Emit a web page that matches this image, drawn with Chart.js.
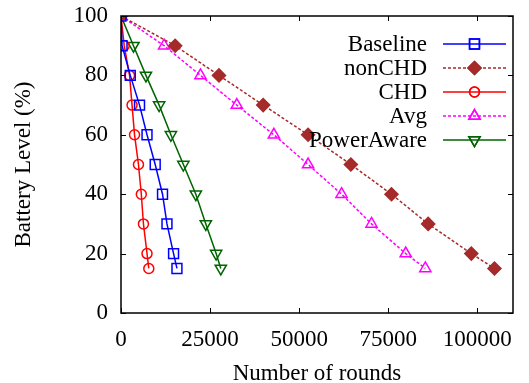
<!DOCTYPE html>
<html>
<head>
<meta charset="utf-8">
<script src="https://cdn.jsdelivr.net/npm/chart.js@4/dist/chart.umd.min.js"></script>
<style>
  html, body { margin: 0; padding: 0; background: #fff; }
  #wrap { width: 529px; height: 383px; }
</style>
</head>
<body>
<div id="wrap"><canvas id="myChart" width="529" height="383"></canvas></div>
<script>
// battery levels (%) that every series reports
var levels = [100, 90, 80, 70, 60, 50, 40, 30, 20, 15];

// number of rounds at which each level is reached
var baselineRounds   = [0, 300, 2600, 5200, 7300, 9600, 11650, 12900, 14750, 15700];
var nonChdRounds     = [0, 15200, 27500, 39900, 52500, 64500, 75900, 86200, 98300, 104800];
var chdRounds        = [0, 900, 2400, 3100, 3800, 4900, 5700, 6300, 7300, 7800];
var avgRounds        = [0, 12100, 22300, 32500, 42900, 52500, 61900, 70300, 79900, 85400];
var powerAwareRounds = [0, 3500, 7000, 10700, 14000, 17500, 21000, 23800, 26700, 28000];

var seriesNames = ["Baseline", "nonCHD", "CHD", "Avg", "PowerAware"];
var xTicks = [0, 25000, 50000, 75000, 100000];
var yTicks = [0, 20, 40, 60, 80, 100];

var FONT = "'Liberation Serif', 'DejaVu Serif', serif";
var FSIZE = 23;

function pts(rounds) {
    var out = [];
    for (var i = 0; i < rounds.length; i++) {
        out.push({ x: rounds[i], y: levels[i] });
    }
    return out;
}

function series(name, rounds, color, style, opts) {
    var ds = {
        label: name,
        data: pts(rounds),
        borderColor: color,
        backgroundColor: color,
        pointBorderColor: color,
        pointBackgroundColor: 'rgba(0,0,0,0)',
        borderWidth: 1.5,
        pointBorderWidth: 1.5,
        pointStyle: style,
        pointRadius: 6,
        tension: 0,
        fill: false
    };
    for (var k in opts) ds[k] = opts[k];
    return ds;
}

var datasets = [
    series(seriesNames[0], baselineRounds, '#0000ff', 'rect', { pointRadius: 7 }),
    series(seriesNames[1], nonChdRounds, '#a52a2a', 'rectRot', { borderDash: [3, 2], pointBackgroundColor: '#a52a2a', pointRadius: 6.5 }),
    series(seriesNames[2], chdRounds, '#ff0000', 'circle', { pointRadius: 5 }),
    series(seriesNames[3], avgRounds, '#ff00ff', 'triangle', { borderDash: [3, 2], pointRadius: 6.5 }),
    series(seriesNames[4], powerAwareRounds, '#006400', 'triangle', { pointRotation: 180, pointRadius: 6.5 })
];

// gnuplot style frame with inward ticks on all four sides
var framePlugin = {
    id: 'frame',
    afterDraw: function (chart) {
        var ctx = chart.ctx;
        var a = chart.chartArea;
        var xs = chart.scales.x, ys = chart.scales.y;
        var len = 5;
        ctx.save();
        ctx.strokeStyle = '#000';
        ctx.lineWidth = 1.5;
        ctx.strokeRect(a.left, a.top, a.right - a.left, a.bottom - a.top);
        ctx.lineWidth = 1;
        ctx.beginPath();
        xTicks.forEach(function (v) {
            var px = Math.round(xs.getPixelForValue(v)) + 0.5;
            ctx.moveTo(px, a.bottom); ctx.lineTo(px, a.bottom - len);
            ctx.moveTo(px, a.top); ctx.lineTo(px, a.top + len);
        });
        yTicks.forEach(function (v) {
            var py = Math.round(ys.getPixelForValue(v)) + 0.5;
            ctx.moveTo(a.left, py); ctx.lineTo(a.left + len, py);
            ctx.moveTo(a.right, py); ctx.lineTo(a.right - len, py);
        });
        ctx.stroke();
        ctx.restore();
    }
};

// legend inside the plot: text on the left, sample line + marker on the right
var legendPlugin = {
    id: 'insideLegend',
    afterDraw: function (chart) {
        var ctx = chart.ctx;
        var textRight = 427, lineL = 443, lineR = 506, top = 44, step = 24;
        ctx.save();
        ctx.font = FSIZE + "px " + FONT;
        ctx.textAlign = 'right';
        ctx.textBaseline = 'middle';
        chart.data.datasets.forEach(function (ds, i) {
            var y = top + i * step;
            ctx.fillStyle = '#000';
            ctx.fillText(ds.label, textRight, y + 1);
            ctx.strokeStyle = ds.borderColor;
            ctx.lineWidth = ds.borderWidth;
            ctx.setLineDash(ds.borderDash || []);
            ctx.beginPath();
            ctx.moveTo(lineL, y); ctx.lineTo(lineR, y);
            ctx.stroke();
            ctx.setLineDash([]);
            ctx.lineWidth = ds.pointBorderWidth;
            ctx.fillStyle = ds.pointBackgroundColor;
            Chart.helpers.drawPoint(ctx, {
                pointStyle: ds.pointStyle,
                rotation: ds.pointRotation || 0,
                radius: ds.pointRadius,
                borderWidth: ds.pointBorderWidth
            }, (lineL + lineR) / 2, y);
            ctx.fill();
            ctx.stroke();
        });
        ctx.restore();
    }
};

var ctx = document.getElementById('myChart');
var myChart = new Chart(ctx, {
    type: 'line',
    data: { datasets: datasets },
    options: {
        responsive: false,
        animation: false,
        layout: { padding: { left: 0, right: 16, top: 16, bottom: 0 } },
        plugins: {
            legend: { display: false },
            tooltip: { enabled: false }
        },
        scales: {
            x: {
                type: 'linear',
                min: 0,
                max: 110000,
                grid: { display: false, drawTicks: false },
                border: { display: false },
                afterBuildTicks: function (s) {
                    s.ticks = xTicks.map(function (v) { return { value: v }; });
                },
                afterFit: function (s) {
                    s.height = 70;
                    s.paddingLeft = 0; s.paddingRight = 0;
                },
                ticks: {
                    color: '#000',
                    padding: 13,
                    maxRotation: 0,
                    font: { family: FONT, size: FSIZE },
                    callback: function (v) { return String(v); }
                },
                title: {
                    display: true,
                    text: 'Number of rounds',
                    color: '#000',
                    font: { family: FONT, size: FSIZE },
                    padding: { top: 0, bottom: -5 }
                }
            },
            y: {
                min: 0,
                max: 100,
                grid: { display: false, drawTicks: false },
                border: { display: false },
                afterBuildTicks: function (s) {
                    s.ticks = yTicks.map(function (v) { return { value: v }; });
                },
                afterFit: function (s) {
                    s.width = 121;
                    s.paddingTop = 0; s.paddingBottom = 0;
                },
                ticks: {
                    color: '#000',
                    padding: 13,
                    font: { family: FONT, size: FSIZE }
                },
                title: {
                    display: true,
                    text: 'Battery Level (%)',
                    color: '#000',
                    font: { family: FONT, size: FSIZE },
                    padding: { top: 10, bottom: 0 }
                }
            }
        }
    },
    plugins: [framePlugin, legendPlugin]
});
</script>
</body>
</html>
